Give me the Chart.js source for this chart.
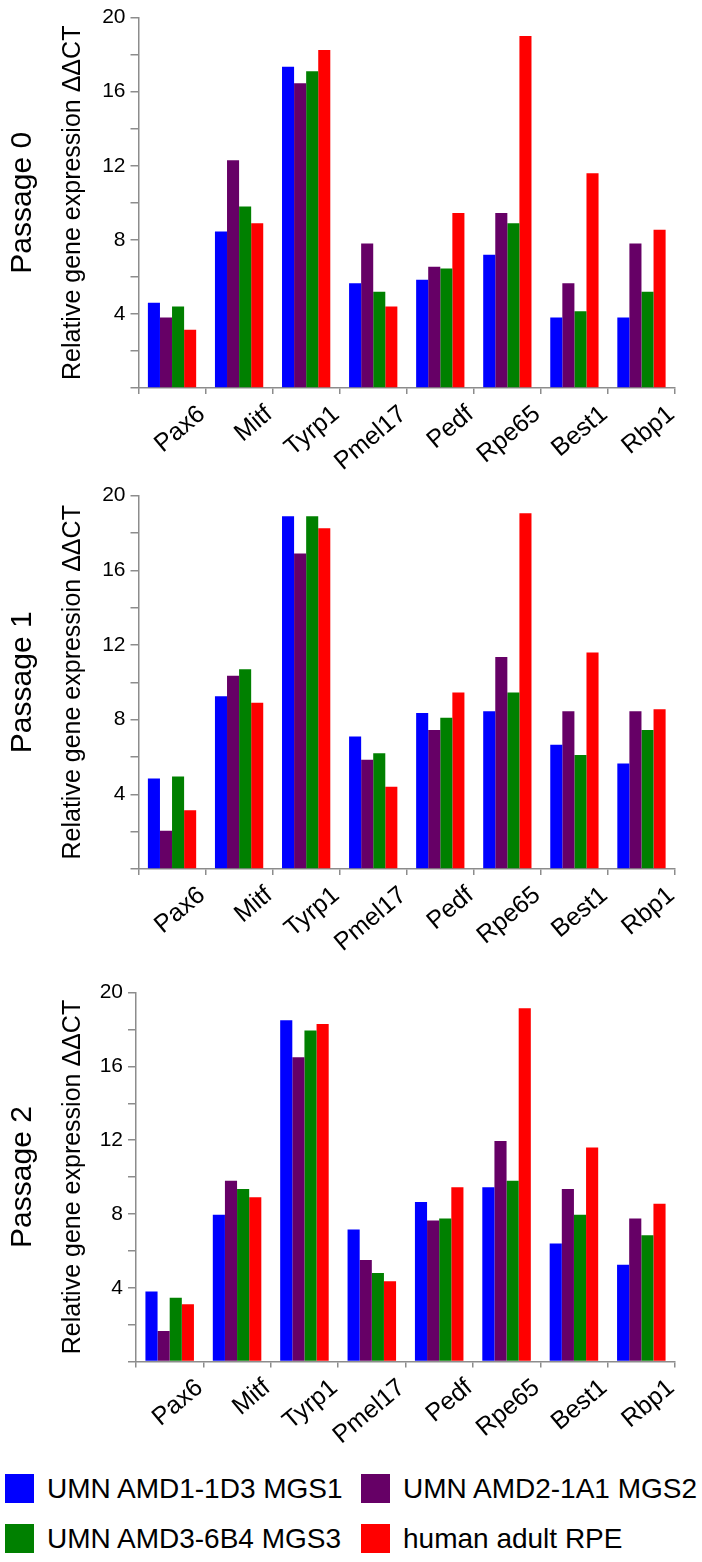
<!DOCTYPE html>
<html>
<head>
<meta charset="utf-8">
<script src="https://cdn.jsdelivr.net/npm/chart.js@4.4.0/dist/chart.umd.min.js"></script>
<style>
  body { margin: 0; background: #fff; width: 702px; height: 1562px; position: relative; overflow: hidden;
         font-family: "Liberation Sans", Arial, sans-serif; }
  canvas { position: absolute; left: 0; }
  .sq { position: absolute; width: 29px; height: 29px; }
  .lbl { position: absolute; font-size: 28px; line-height: 32px; color: #000; white-space: nowrap; }
</style>
</head>
<body>
<canvas id="p0" width="702" height="480" style="top:0px"></canvas>
<canvas id="p1" width="702" height="480" style="top:478px"></canvas>
<canvas id="p2" width="702" height="480" style="top:975px"></canvas>
<div id="legend"></div>
<script>
var genes = ["Pax6", "Mitf", "Tyrp1", "Pmel17", "Pedf", "Rpe65", "Best1", "Rbp1"];
var seriesNames = ["UMN AMD1-1D3 MGS1", "UMN AMD2-1A1 MGS2", "UMN AMD3-6B4 MGS3", "human adult RPE"];
var seriesColors = ["#0000ff", "#660066", "#008000", "#ff0000"];
var yTicks = [4, 8, 12, 16, 20];

// Passage 0
var p0Amd1 = [4.6, 8.45, 17.35, 5.65, 5.85, 7.2, 3.8, 3.8];
var p0Amd2 = [3.8, 12.3, 16.45, 7.8, 6.55, 9.45, 5.65, 7.8];
var p0Amd3 = [4.4, 9.8, 17.1, 5.2, 6.45, 8.9, 4.15, 5.2];
var p0Rpe  = [3.15, 8.9, 18.25, 4.4, 9.45, 19.0, 11.6, 8.55];
// Passage 1
var p1Amd1 = [4.85, 9.25, 18.9, 7.1, 8.35, 8.45, 6.65, 5.65];
var p1Amd2 = [2.05, 10.35, 16.9, 5.85, 7.45, 11.35, 8.45, 8.45];
var p1Amd3 = [4.95, 10.7, 18.9, 6.2, 8.1, 9.45, 6.1, 7.45];
var p1Rpe  = [3.15, 8.9, 18.25, 4.4, 9.45, 19.05, 11.6, 8.55];
// Passage 2
var p2Amd1 = [3.8, 7.95, 18.5, 7.15, 8.65, 9.45, 6.4, 5.25];
var p2Amd2 = [1.65, 9.8, 16.5, 5.5, 7.65, 11.95, 9.35, 7.75];
var p2Amd3 = [3.45, 9.35, 17.95, 4.8, 7.75, 9.8, 7.95, 6.85];
var p2Rpe  = [3.1, 8.9, 18.3, 4.35, 9.45, 19.15, 11.6, 8.55];

var axisGray = "#8c8c8c";
var font = "'Liberation Sans', Arial, sans-serif";

function drawPanel(id, title, values, plotTop, plotBottom, plotLeft) {
  var datasets = [];
  for (var i = 0; i < values.length; i++) {
    datasets.push({
      label: seriesNames[i],
      data: values[i],
      backgroundColor: seriesColors[i],
      borderWidth: 0,
      barPercentage: 1.0,
      categoryPercentage: 0.72
    });
  }
  new Chart(document.getElementById(id), {
    type: "bar",
    data: { labels: genes, datasets: datasets },
    options: {
      responsive: false,
      animation: false,
      devicePixelRatio: 1,
      layout: { padding: { top: plotTop, bottom: 0, left: 0, right: 27 } },
      plugins: {
        legend: { display: false },
        tooltip: { enabled: false },
        title: {
          display: true,
          text: title,
          position: "left",
          fullSize: false,
          color: "#000",
          font: { family: font, size: 30, weight: "normal" },
          padding: { top: 4.5, bottom: 18 }
        }
      },
      scales: {
        x: {
          afterFit: function(scale) { scale.height = 480 - plotBottom; },
          border: { display: true, color: axisGray, width: 1.5 },
          grid: { display: true, drawOnChartArea: false, drawTicks: true, tickLength: 6, color: axisGray, lineWidth: 1.5, offset: true },
          ticks: {
            color: "#000",
            font: { family: font, size: 25 },
            minRotation: 40,
            maxRotation: 40,
            autoSkip: false,
            labelOffset: 30,
            padding: 5.5
          }
        },
        y: {
          min: 0,
          max: 20,
          afterFit: function(scale) { scale.width = plotLeft - 58.5; },
          border: { display: true, color: axisGray, width: 1.5 },
          grid: { display: true, drawOnChartArea: false, drawTicks: true, tickLength: 8, color: axisGray, lineWidth: 1.5 },
          title: {
            display: true,
            text: "Relative gene expression \u0394\u0394CT",
            color: "#000",
            font: { family: font, size: 25 },
            padding: { top: 0, bottom: 0 }
          },
          ticks: {
            stepSize: 2,
            color: "#000",
            font: { family: font, size: 21 },
            padding: 5,
            callback: function(v) { return yTicks.indexOf(v) >= 0 ? v : ""; }
          }
        }
      }
    }
  });
}

drawPanel("p0", "Passage 0", [p0Amd1, p0Amd2, p0Amd3, p0Rpe], 12.7, 388, 138.5);
drawPanel("p1", "Passage 1", [p1Amd1, p1Amd2, p1Amd3, p1Rpe], 13.5, 391, 138.5);
drawPanel("p2", "Passage 2", [p2Amd1, p2Amd2, p2Amd3, p2Rpe], 12.7, 386.5, 136);

// legend, two columns
var legCols = [5, 361];
var legRows = [1474, 1524];
var legend = document.getElementById("legend");
for (var k = 0; k < seriesNames.length; k++) {
  var col = k % 2, row = Math.floor(k / 2);
  var sq = document.createElement("div");
  sq.className = "sq";
  sq.style.left = legCols[col] + "px";
  sq.style.top = legRows[row] + "px";
  sq.style.background = seriesColors[k];
  legend.appendChild(sq);
  var t = document.createElement("div");
  t.className = "lbl";
  t.style.left = (legCols[col] + 42) + "px";
  t.style.top = (legRows[row] - 1) + "px";
  t.textContent = seriesNames[k];
  legend.appendChild(t);
}
</script>
</body>
</html>
